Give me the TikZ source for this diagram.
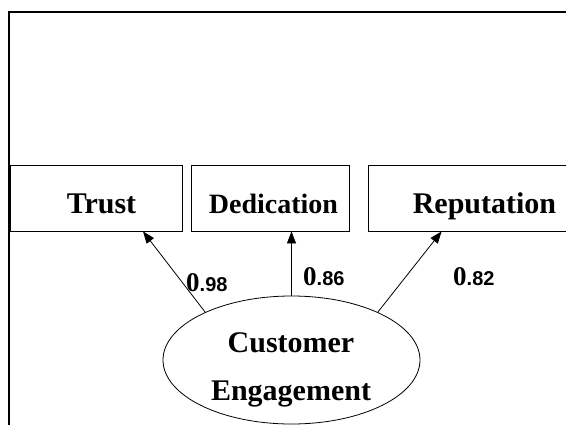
\documentclass[tikz,border=0pt]{standalone}
\usepackage{fontspec}
\setmainfont{Liberation Serif}
\newfontfamily\numsans{Liberation Sans}
\usetikzlibrary{shapes.geometric,arrows.meta}
\begin{document}
\begin{tikzpicture}[x=1pt,y=-1pt,
  box/.style={draw,line width=0.8pt,rectangle,minimum height=66pt,inner sep=0pt,
    text height=30pt,text depth=0pt,font=\fontsize{30}{32}\selectfont\bfseries},
  conn/.style={line width=0.8pt,-{Triangle[length=12pt,width=9pt]}},
  coef/.style={anchor=base west,inner sep=0pt}]
\useasboundingbox (0,0) rectangle (566,424);
\fill[white] (0,0) rectangle (566,424);
\clip (0,0) rectangle (566,424);
\draw[line width=2pt] (8.5,12) rectangle (620,480);
% boxes
\node[box,minimum width=172pt] (trust) at (96,198) {\hspace*{11pt}Trust};
\node[box,minimum width=158pt,font=\fontsize{28}{30}\selectfont\bfseries] (ded) at (270,198) {\hspace*{7pt}Dedication};
\node[box,minimum width=224pt] (rep) at (480,198) {\hspace*{9pt}Reputation};
% latent variable
\node[draw,ellipse,line width=0.8pt,minimum width=257pt,minimum height=128pt,inner sep=0pt] (ce) at (291.5,360) {};
\node[align=center,inner sep=0pt,anchor=base,font=\fontsize{30}{48}\selectfont\bfseries] (cetext) at (291,400) {Customer\\Engagement};
% connectors
\draw[conn] (ce.151) -- ([xshift=47pt]trust.south);
\draw[conn] (ce.north) -- (ce.north |- ded.south);
\draw[conn] (ce.29) -- ([xshift=74pt]rep.south west);
% coefficients
\node[coef] (c1) at (186,291) {{\fontsize{27}{27}\selectfont\bfseries 0}{\numsans\fontsize{20}{20}\selectfont\bfseries .98}};
\node[coef] (c2) at (303,285) {{\fontsize{27}{27}\selectfont\bfseries 0}{\numsans\fontsize{20}{20}\selectfont\bfseries .86}};
\node[coef] (c3) at (453,285) {{\fontsize{27}{27}\selectfont\bfseries 0}{\numsans\fontsize{20}{20}\selectfont\bfseries .82}};
\end{tikzpicture}
\end{document}
